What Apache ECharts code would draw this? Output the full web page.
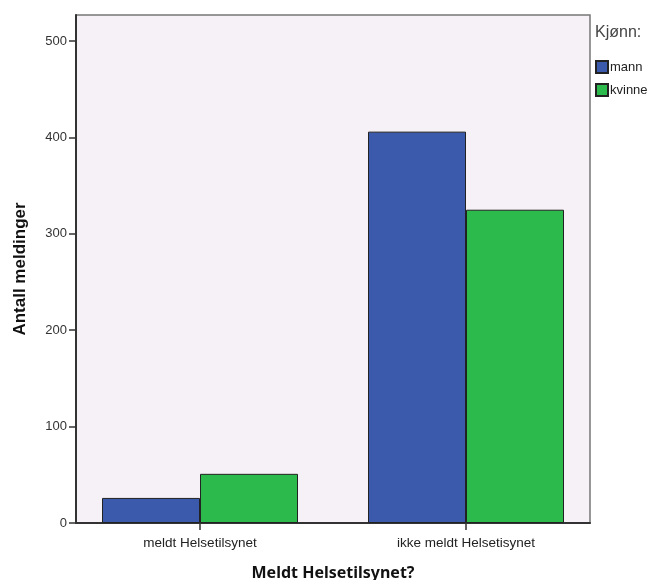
<!DOCTYPE html>
<html>
<head>
<meta charset="utf-8">
<script src="https://cdn.jsdelivr.net/npm/echarts@6/dist/echarts.min.js"></script>
<style>html,body{margin:0;padding:0;background:#fff}#c{width:650px;height:580px}</style>
</head>
<body>
<div id="c"></div>
<script>
const categories = ['meldt Helsetilsynet', 'ikke meldt Helsetisynet'];
const seriesNames = ['mann', 'kvinne'];
const mannValues = [26, 406];
const kvinneValues = [51, 325];
const yTicks = [0, 100, 200, 300, 400, 500];
const yMax = 527;

const chart = echarts.init(document.getElementById('c'));
chart.setOption({
  animation: false,
  title: {
    text: 'Kjønn:', left: 590, top: 20,
    textStyle: {fontFamily: 'Liberation Sans', fontSize: 16, fontWeight: 'normal', color: '#444'}
  },
  legend: {
    orient: 'vertical', left: 590, top: 55, itemWidth: 12, itemHeight: 12, itemGap: 9,
    icon: 'rect',
    textStyle: {fontFamily: 'Liberation Sans', fontSize: 13, color: '#222', padding: [0, 0, 0, -3]},
    data: seriesNames
  },
  grid: [
    {left: 76, right: 60, top: 15, bottom: 57, outerBoundsMode: 'none', show: true, backgroundColor: '#f6f1f6', borderColor: '#777', borderWidth: 1.5},
    {left: 67, right: 51, top: 15, bottom: 57, outerBoundsMode: 'none'}
  ],
  xAxis: [
    {gridIndex: 0, type: 'category', data: categories, axisLabel: {show: false}, axisTick: {show: false},
     axisLine: {lineStyle: {color: '#333', width: 2}}},
    {gridIndex: 1, type: 'category', data: categories,
     axisLine: {show: false},
     axisTick: {show: true, alignWithLabel: true, length: 7, lineStyle: {color: '#333', width: 1.5}},
     axisLabel: {fontFamily: 'Liberation Sans', fontSize: 13.5, color: '#222', margin: 13},
     name: 'Meldt Helsetilsynet?', nameLocation: 'middle', nameGap: 42,
     nameTextStyle: {fontFamily: 'Noto Sans', fontWeight: 'bold', fontSize: 16, color: '#111'}}
  ],
  yAxis: [
    {gridIndex: 0, type: 'value', min: 0, max: yMax, interval: 100,
     splitLine: {show: false},
     axisLine: {show: true, lineStyle: {color: '#333', width: 2}},
     axisTick: {show: true, length: 7, customValues: yTicks, lineStyle: {color: '#333', width: 1.5}},
     axisLabel: {fontFamily: 'Liberation Sans', fontSize: 13, color: '#333', margin: 9, customValues: yTicks},
     name: 'Antall meldinger', nameLocation: 'middle', nameGap: 47,
     nameTextStyle: {fontFamily: 'Liberation Sans', fontWeight: 'bold', fontSize: 17, color: '#111'}},
    {gridIndex: 1, type: 'value', min: 0, max: yMax, show: false, splitLine: {show: false}}
  ],
  series: [
    {name: seriesNames[0], type: 'bar', xAxisIndex: 1, yAxisIndex: 1, data: mannValues, barWidth: 98, barGap: '0%',
     itemStyle: {color: '#3b5aab', borderColor: '#222', borderWidth: 1}},
    {name: seriesNames[1], type: 'bar', xAxisIndex: 1, yAxisIndex: 1, data: kvinneValues, barWidth: 98, barGap: '0%',
     itemStyle: {color: '#2bba4b', borderColor: '#222', borderWidth: 1}}
  ]
});
</script>
</body>
</html>
